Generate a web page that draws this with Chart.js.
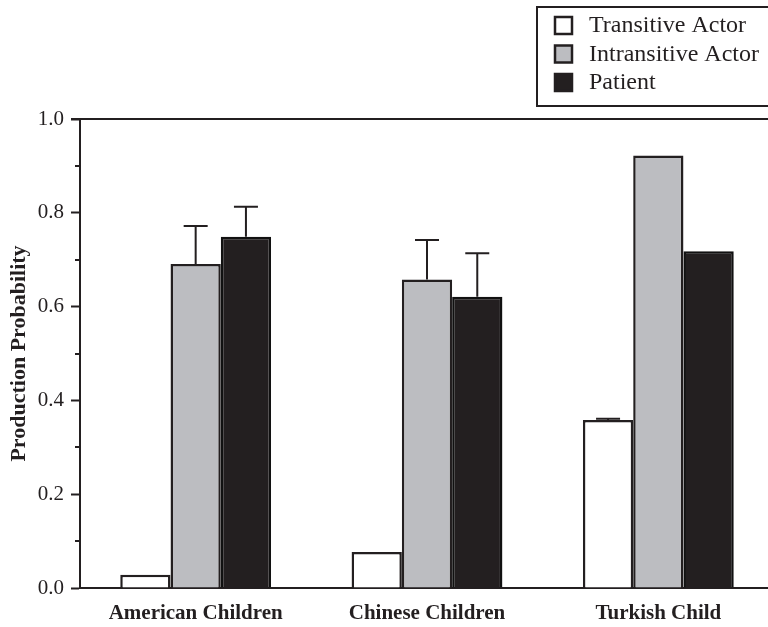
<!DOCTYPE html>
<html>
<head>
<meta charset="utf-8">
<script src="https://cdn.jsdelivr.net/npm/chart.js@4"></script>
<style>
  html, body { margin: 0; padding: 0; background: #fff; overflow: hidden; }
  #wrap { width: 774px; height: 627px; }
</style>
</head>
<body>
<div id="wrap"><canvas id="prodChart" width="774" height="627"></canvas></div>
<script>
const groups = ["American Children", "Chinese Children", "Turkish Child"];

const transitiveActor = [0.028, 0.077, 0.358];
const intransitiveActor = [0.691, 0.658, 0.922];
const patient = [0.749, 0.621, 0.718];

// upper error bar lengths (null = none)
const transitiveErr = [null, null, 0.003];
const intransitiveErr = [0.081, 0.084, null];
const patientErr = [0.064, 0.093, null];

const yTicks = [0, 0.2, 0.4, 0.6, 0.8, 1.0];
const yMinorTicks = [0.1, 0.3, 0.5, 0.7, 0.9];

const ink = "#231f20";
const serif = "'Liberation Serif', 'DejaVu Serif', serif";

// error bars, minor ticks, top frame line and legend box
const extras = {
  id: "extras",
  afterDatasetsDraw(chart) {
    const ctx = chart.ctx;
    const y = chart.scales.y;
    ctx.save();
    ctx.strokeStyle = ink;
    ctx.lineWidth = 2;
    chart.data.datasets.forEach((ds, i) => {
      const meta = chart.getDatasetMeta(i);
      meta.data.forEach((bar, j) => {
        const err = ds.errors[j];
        if (err == null) return;
        const top = y.getPixelForValue(ds.data[j]);
        const cap = y.getPixelForValue(ds.data[j] + err);
        ctx.beginPath();
        ctx.moveTo(bar.x, top);
        ctx.lineTo(bar.x, cap);
        ctx.moveTo(bar.x - 12, cap);
        ctx.lineTo(bar.x + 12, cap);
        ctx.stroke();
      });
    });
    ctx.restore();
  },
  afterDraw(chart) {
    const ctx = chart.ctx;
    const area = chart.chartArea;
    const y = chart.scales.y;
    ctx.save();
    ctx.strokeStyle = ink;
    ctx.lineWidth = 2;
    // minor ticks
    yMinorTicks.forEach(v => {
      const py = Math.round(y.getPixelForValue(v));
      ctx.beginPath();
      ctx.moveTo(area.left - 5, py);
      ctx.lineTo(area.left, py);
      ctx.stroke();
    });
    // top frame line
    ctx.beginPath();
    ctx.moveTo(area.left - 9, area.top);
    ctx.lineTo(area.right, area.top);
    ctx.stroke();

    // legend box
    const bx = 537, by = 7, bw = 240, bh = 99;
    ctx.lineWidth = 2;
    ctx.strokeRect(bx, by, bw, bh);
    ctx.font = "24px " + serif;
    ctx.textBaseline = "middle";
    chart.data.datasets.forEach((ds, i) => {
      const cy = 25 + i * 28.5;
      ctx.fillStyle = ds.backgroundColor;
      ctx.fillRect(555, cy - 8, 17, 17);
      ctx.strokeStyle = ink;
      ctx.lineWidth = 2.5;
      ctx.strokeRect(555, cy - 8, 17, 17);
      ctx.fillStyle = ink;
      ctx.fillText(ds.label, 589, cy + 1);
    });
    ctx.restore();
  }
};

const ctx = document.getElementById("prodChart");

new Chart(ctx, {
  type: "bar",
  data: {
    labels: groups,
    datasets: [
      {
        label: "Transitive Actor",
        data: transitiveActor,
        errors: transitiveErr,
        backgroundColor: "#ffffff",
        borderColor: ink,
        borderWidth: 2.5,
        borderSkipped: "bottom"
      },
      {
        label: "Intransitive Actor",
        data: intransitiveActor,
        errors: intransitiveErr,
        backgroundColor: "#bcbdc1",
        borderColor: ink,
        borderWidth: 2.5,
        borderSkipped: "bottom"
      },
      {
        label: "Patient",
        data: patient,
        errors: patientErr,
        backgroundColor: "#231f20",
        borderColor: "#111",
        borderWidth: 2.5,
        borderSkipped: "bottom"
      }
    ]
  },
  options: {
    responsive: false,
    animation: false,
    layout: { padding: { top: 119, right: 0, left: 0, bottom: 0 } },
    datasets: {
      bar: { categoryPercentage: 0.652, barPercentage: 1.0 }
    },
    plugins: {
      legend: { display: false },
      tooltip: { enabled: false }
    },
    scales: {
      x: {
        grid: { display: false, drawTicks: false },
        border: { color: ink, width: 2 },
        ticks: {
          color: ink,
          padding: 13,
          font: { family: serif, size: 21, weight: "bold" }
        },
        afterFit(scale) { scale.height = 39; }
      },
      y: {
        min: 0,
        max: 1,
        afterBuildTicks(scale) {
          scale.ticks = yTicks.map(v => ({ value: v }));
        },
        grid: {
          drawOnChartArea: false,
          tickLength: 9,
          tickWidth: 2,
          tickColor: ink
        },
        border: { color: ink, width: 2 },
        ticks: {
          color: ink,
          padding: 7,
          font: { family: serif, size: 21 },
          callback: v => v.toFixed(1)
        },
        title: {
          display: true,
          text: "Production Probability",
          color: ink,
          padding: { top: 6, bottom: 0 },
          font: { family: serif, size: 22, weight: "bold" }
        },
        afterFit(scale) { scale.width = 80; }
      }
    }
  },
  plugins: [extras]
});
</script>
</body>
</html>
